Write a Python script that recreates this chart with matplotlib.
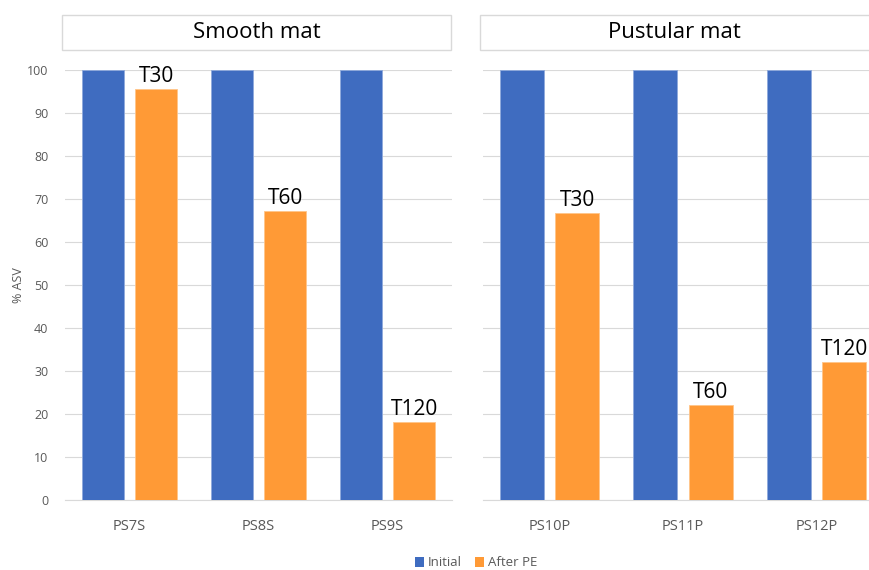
import numpy as np
import matplotlib.pyplot as plt
from matplotlib.patches import Rectangle, Patch

# ========= DATA =========
smooth_samples = ['PS7S', 'PS8S', 'PS9S']
pustular_samples = ['PS10P', 'PS11P', 'PS12P']
smooth_initial = [100, 100, 100]
smooth_after = [95.6, 67.2, 18.1]
pustular_initial = [100, 100, 100]
pustular_after = [66.8, 22.1, 32.1]
time_labels = ['T30', 'T60', 'T120']

blue = '#3F6CC0'
orange = '#FF9A36'
grey_txt = '#595959'

plt.rcParams['font.family'] = ['Open Sans', 'DejaVu Sans']

W, H = 869, 570
fig = plt.figure(figsize=(W / 100, H / 100), dpi=100)


def draw_panel(ax, names, initial, after, show_y):
    x = np.arange(len(names))
    w = 0.33
    off = 0.207
    ax.bar(x - off, initial, w, color=blue, edgecolor='#8FAADC', linewidth=0.6, zorder=3)
    ax.bar(x + off, after, w, color=orange, edgecolor='#FFC58A', linewidth=0.6, zorder=3)
    for xi, v, lab in zip(x, after, time_labels):
        ax.text(xi + off, v + 0.5, lab, ha='center', va='bottom', fontsize=15, color='black')
    ax.set_xlim(-0.5, len(names) - 0.5)
    ax.set_ylim(0, 100)
    ax.set_yticks(range(0, 101, 10))
    ax.grid(axis='y', color='#D9D9D9', linewidth=0.8, zorder=0)
    for s in ['top', 'right', 'left']:
        ax.spines[s].set_visible(False)
    ax.spines['bottom'].set_color('#D9D9D9')
    ax.set_xticks(x)
    ax.set_xticklabels(names, fontsize=10.5, color=grey_txt)
    ax.tick_params(axis='both', length=0, pad=14)
    ax.tick_params(axis='y', pad=12)
    if show_y:
        ax.set_yticklabels([str(v) for v in range(0, 101, 10)], fontsize=9, color=grey_txt)
    else:
        ax.set_yticklabels([])


ax1 = fig.add_axes([65 / W, 1 - 500 / H, 387 / W, 430 / H])
ax2 = fig.add_axes([482.75 / W, 1 - 500 / H, 400.5 / W, 430 / H])
draw_panel(ax1, smooth_samples, smooth_initial, smooth_after, True)
draw_panel(ax2, pustular_samples, pustular_initial, pustular_after, False)

fig.text(18 / W, 1 - 285 / H, '% ASV', rotation=90, ha='center', va='center',
         fontsize=9, color=grey_txt)

# panel title boxes
for x0, x1, title in [(62, 451, 'Smooth mat'), (480, 875, 'Pustular mat')]:
    fig.patches.append(Rectangle((x0 / W, 1 - 50 / H), (x1 - x0) / W, 35 / H,
                                 transform=fig.transFigure, facecolor='white',
                                 edgecolor='#D9D9D9', linewidth=1))
    fig.text((x0 + min(x1, W)) / 2 / W, 1 - 33 / H, title, ha='center', va='center',
             fontsize=16, color='black')

legend_elements = [Patch(facecolor=blue, label='Initial'),
                   Patch(facecolor=orange, label='After PE')]
fig.legend(handles=legend_elements, loc='center', bbox_to_anchor=(476 / W, 1 - 563 / H),
           ncol=2, frameon=False, fontsize=9.5, handlelength=0.7, handleheight=0.7,
           handletextpad=0.3, columnspacing=1.0, labelcolor=grey_txt)

fig.savefig('out.png', dpi=100)
